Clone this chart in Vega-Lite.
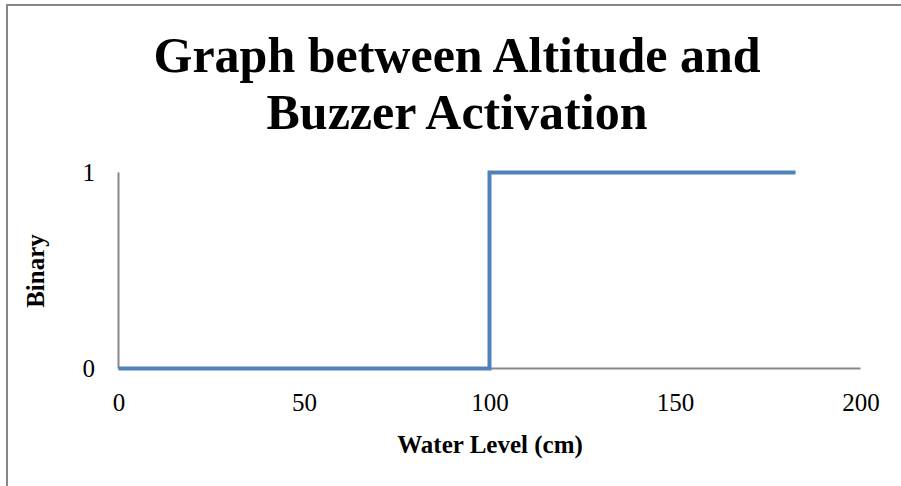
{
  "$schema": "https://vega.github.io/schema/vega-lite/v6.json",
  "width": 900,
  "height": 490,
  "autosize": {"type": "none"},
  "padding": {"left": 7, "top": 5, "right": 0, "bottom": 0},
  "background": "white",
  "title": {
    "text": ["Graph between Altitude and", "Buzzer Activation"],
    "font": "Liberation Serif",
    "fontSize": 50,
    "fontWeight": "bold",
    "color": "black",
    "lineHeight": 57,
    "anchor": "middle",
    "frame": "group",
    "offset": -134
  },
  "datasets": {
    "series": [
      {"level": 0, "binary": 0, "i": 1},
      {"level": 100, "binary": 0, "i": 2},
      {"level": 100, "binary": 1, "i": 3},
      {"level": 182.5, "binary": 1, "i": 4}
    ],
    "axes": [
      {"x": 0, "x2": 200, "y": 0, "y2": 0},
      {"x": 0, "x2": 0, "y": 0, "y2": 1}
    ]
  },
  "layer": [
    {
      "data": {"name": "axes"},
      "mark": {"type": "rule", "color": "#878787", "strokeWidth": 2},
      "encoding": {
        "x": {"field": "x", "type": "quantitative",
              "scale": {"domain": [-30.05, 212.53], "nice": false, "zero": false},
              "axis": {
                "orient": "bottom", "offset": -126.5, "domain": false, "ticks": false, "grid": false,
                "values": [0, 50, 100, 150, 200], "labelFont": "Liberation Serif", "labelFontSize": 25,
                "labelColor": "black", "labelPadding": 22,
                "title": "Water Level (cm)", "titleFont": "Liberation Serif", "titleFontSize": 25,
                "titleFontWeight": "bold", "titleColor": "black", "titleX": 482.5, "titleY": 84,
                "titleAlign": "center", "titleBaseline": "alphabetic"
              }},
        "x2": {"field": "x2"},
        "y": {"field": "y", "type": "quantitative",
              "scale": {"domain": [-0.6454, 1.8546], "nice": false, "zero": false},
              "axis": {
                "orient": "left", "offset": -111.5, "domain": false, "ticks": false, "grid": false,
                "values": [0, 1], "format": "d", "labelFont": "Liberation Serif", "labelFontSize": 25,
                "labelColor": "black", "labelPadding": 24,
                "title": "Binary", "titleFont": "Liberation Serif", "titleFontSize": 25,
                "titleFontWeight": "bold", "titleColor": "black", "titleX": -83.5, "titleY": 265.5,
                "titleAngle": -90, "titleAlign": "center", "titleBaseline": "middle"
              }},
        "y2": {"field": "y2"}
      }
    },
    {
      "data": {"name": "series"},
      "mark": {"type": "line", "color": "#4F81BD", "strokeWidth": 4, "strokeJoin": "miter", "strokeCap": "butt"},
      "encoding": {
        "x": {"field": "level", "type": "quantitative"},
        "y": {"field": "binary", "type": "quantitative"},
        "order": {"field": "i", "type": "quantitative"}
      }
    }
  ],
  "config": {
    "view": {"stroke": "#878787", "strokeWidth": 2}
  }
}
